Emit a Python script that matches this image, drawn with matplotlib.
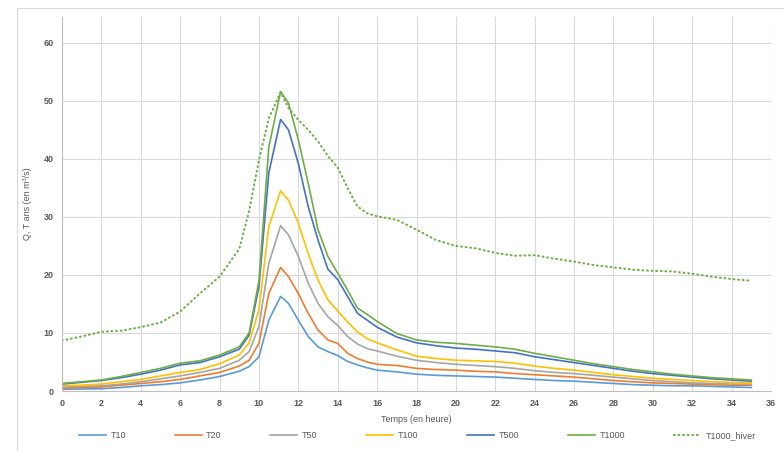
import matplotlib
matplotlib.use('Agg')
import matplotlib.pyplot as plt
from matplotlib.patches import Rectangle

# hours
hours = [0, 1, 2, 3, 4, 5, 6, 7, 8, 9, 9.5, 10, 10.5, 11.1, 11.5, 12, 12.5, 13, 13.5, 14,
         14.5, 15, 15.5, 16, 17, 18, 19, 20, 21, 22, 23, 24, 25, 26, 27, 28, 29, 30,
         31, 32, 33, 34, 35]

t10 = [0.3, 0.35, 0.4, 0.6, 0.9, 1.1, 1.4, 1.9, 2.5, 3.4, 4.2, 5.9, 12.2, 16.3, 15.1, 12.2,
       9.4, 7.6, 6.8, 6.1, 5.1, 4.5, 4.0, 3.6, 3.3, 2.9, 2.7, 2.6, 2.5, 2.4, 2.2, 2.0, 1.8,
       1.7, 1.5, 1.3, 1.1, 1.0, 0.9, 0.9, 0.8, 0.7, 0.6]
t20 = [0.5, 0.6, 0.7, 1.0, 1.3, 1.6, 2.0, 2.6, 3.2, 4.3, 5.3, 8.2, 16.8, 21.3, 19.7, 16.8,
       13.4, 10.5, 8.8, 8.2, 6.5, 5.6, 5.0, 4.6, 4.4, 3.9, 3.7, 3.6, 3.4, 3.3, 3.0, 2.8, 2.6,
       2.4, 2.1, 1.8, 1.6, 1.4, 1.3, 1.2, 1.1, 1.0, 1.0]
t50 = [0.7, 0.8, 0.9, 1.2, 1.6, 2.1, 2.6, 3.2, 3.9, 5.3, 6.8, 11.1, 22.0, 28.5, 26.9, 23.2,
       18.6, 15.1, 12.8, 11.3, 9.4, 8.1, 7.3, 6.9, 6.0, 5.3, 4.9, 4.6, 4.4, 4.2, 3.9, 3.5,
       3.2, 3.0, 2.7, 2.4, 2.1, 1.8, 1.6, 1.4, 1.3, 1.2, 1.2]
t100 = [0.9, 1.0, 1.2, 1.6, 2.0, 2.6, 3.2, 3.7, 4.7, 6.2, 8.3, 14.0, 28.3, 34.5, 32.9, 28.9,
        23.7, 19.1, 15.7, 13.8, 11.9, 10.2, 9.0, 8.3, 7.1, 6.0, 5.6, 5.3, 5.2, 5.1, 4.8, 4.3,
        3.9, 3.6, 3.2, 2.8, 2.5, 2.2, 2.0, 1.8, 1.6, 1.5, 1.4]
t500 = [1.2, 1.5, 1.8, 2.3, 2.9, 3.6, 4.5, 4.9, 5.9, 7.2, 9.6, 18.0, 37.6, 46.8, 45.0, 39.2,
        31.8, 26.0, 21.0, 19.2, 16.3, 13.4, 12.2, 11.0, 9.3, 8.3, 7.8, 7.4, 7.2, 6.9, 6.6,
        5.9, 5.4, 4.9, 4.4, 3.9, 3.4, 3.0, 2.7, 2.4, 2.1, 1.9, 1.7]
t1000 = [1.3, 1.6, 1.9, 2.5, 3.2, 3.9, 4.8, 5.2, 6.2, 7.6, 10.0, 19.0, 42.0, 51.6, 49.6, 43.3,
         35.8, 27.8, 23.2, 20.3, 17.4, 14.3, 13.2, 12.0, 9.9, 8.8, 8.4, 8.2, 7.9, 7.6, 7.2,
         6.5, 5.9, 5.3, 4.7, 4.2, 3.7, 3.3, 2.9, 2.6, 2.3, 2.1, 1.9]
t1000_hiver = [8.7, 9.4, 10.2, 10.4, 11.0, 11.8, 13.7, 16.8, 19.7, 24.5, 31.0, 39.8, 47.0,
               51.5, 48.8, 46.7, 45.0, 43.0, 40.5, 38.5, 35.0, 31.8, 30.6, 30.1, 29.5, 27.8,
               26.0, 25.0, 24.6, 23.8, 23.3, 23.4, 22.8, 22.3, 21.7, 21.3, 20.9, 20.7, 20.6,
               20.2, 19.7, 19.3, 19.0]

series = [('T10', t10, '#5B9BD5'), ('T20', t20, '#ED7D31'), ('T50', t50, '#A5A5A5'),
          ('T100', t100, '#FFC000'), ('T500', t500, '#4472C4'), ('T1000', t1000, '#70AD47')]

plt.rcParams['font.family'] = ['Liberation Sans', 'DejaVu Sans']
txt = '#595959'

fig = plt.figure(figsize=(7.84, 4.51), dpi=100)
ax = fig.add_axes([0.0791, 0.133, 0.9043, 0.830])

for name, vals, col in series:
    ax.plot(hours, vals, color=col, lw=1.2, label=name)
ax.plot(hours, t1000_hiver, color='#70AD47', lw=1.5, linestyle=(0, (0.4, 1.8)),
        dash_capstyle='round', label='T1000_hiver')

ax.set_xlim(0, 36)
ax.set_ylim(0, 64.5)
ax.set_xticks(range(0, 37, 2))
ax.set_yticks(range(0, 61, 10))
ax.grid(True, color='#D9D9D9', lw=0.8)
ax.set_axisbelow(True)
for s in ['top', 'right']:
    ax.spines[s].set_visible(False)
for s in ['left', 'bottom']:
    ax.spines[s].set_color('#BFBFBF')
ax.tick_params(length=0, labelsize=6.5, labelcolor=txt, pad=6)
for lab in ax.get_xticklabels() + ax.get_yticklabels():
    lab.set_fontweight('bold')
ax.set_xlabel('Temps (en heure)', fontsize=6.5, color=txt, labelpad=5)
ax.set_ylabel('Q, T ans (en m³/s)', fontsize=6.5, color=txt, labelpad=8)

fig.legend(loc='center', bbox_to_anchor=(0.532, 0.035), ncol=7, frameon=False,
           fontsize=6.5, labelcolor=txt, handlelength=3.0, columnspacing=5.4,
           handletextpad=0.5)

fig.patches.append(Rectangle((17 / 784, -0.05), 1.0, 1.05 - 8 / 451, transform=fig.transFigure,
                             fill=False, edgecolor='#D9D9D9', lw=0.8))

fig.savefig('out.png', dpi=100)
